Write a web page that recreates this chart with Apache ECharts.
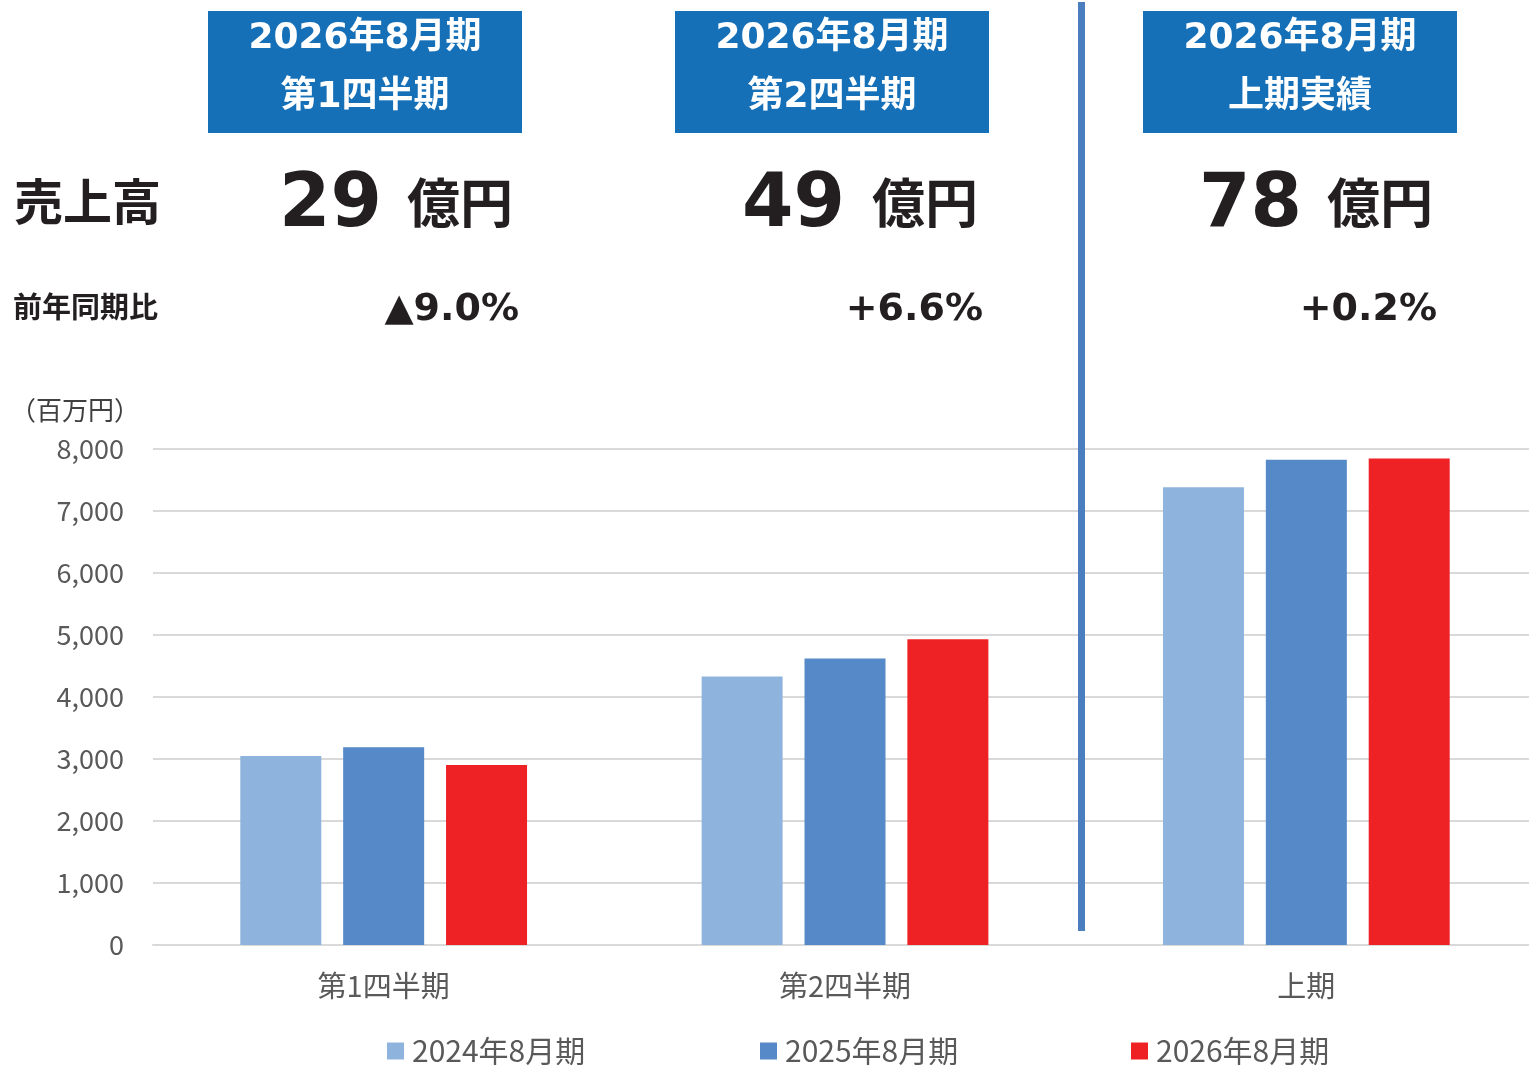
<!DOCTYPE html>
<html>
<head>
<meta charset="utf-8">
<title>売上高</title>
<script src="https://cdn.jsdelivr.net/npm/echarts@6/dist/echarts.min.js"></script>
<style>
  html, body { margin: 0; padding: 0; background: #fff; overflow: hidden; }
  #main { width: 1537px; height: 1065px; }
</style>
</head>
<body>
<div id="main"></div>
<script>
// カテゴリ・系列データ（百万円）
const categories = ['第1四半期', '第2四半期', '上期'];
const seriesNames = ['2024年8月期', '2025年8月期', '2026年8月期'];
const fy2024 = [3050, 4330, 7385];
const fy2025 = [3190, 4620, 7825];
const fy2026 = [2905, 4930, 7845];
const yTicks = [0, 1000, 2000, 3000, 4000, 5000, 6000, 7000, 8000];

// 見出し・サマリー
const headLine1 = ['2026年8月期', '2026年8月期', '2026年8月期'];
const headLine2 = ['第1四半期', '第2四半期', '上期実績'];
const salesOku = ['29', '49', '78'];
const yoyText = ['▲9.0%', '+6.6%', '+0.2%'];

const colors = ['#8eb4de', '#5689c8', '#ee2224'];
const boxBlue = '#1570b8';
const ink = '#231f20';
const gray = '#595959';
const cjk = '"Noto Sans CJK JP", sans-serif';
const numFont = '"DejaVu Sans", "Noto Sans CJK JP", sans-serif';

const chart = echarts.init(document.getElementById('main'));

// 上部パネル（見出しボックス・売上高・前年同期比）
const boxLeft = [208, 675, 1143];
const boxW = 314;
const numLeft = [279, 742, 1199];
const okuLeft = [407, 872, 1327];
const yoyRight = [519, 983, 1437];

const graphics = [];
for (let i = 0; i < 3; i++) {
    graphics.push({
        type: 'rect', left: boxLeft[i], top: 11,
        shape: { width: boxW, height: 122 },
        style: { fill: boxBlue }
    });
    graphics.push({
        type: 'text', x: boxLeft[i] + boxW / 2, y: 39,
        style: { text: headLine1[i], fill: '#fff', font: 'bold 36px ' + numFont, textAlign: 'center', textVerticalAlign: 'middle' }
    });
    graphics.push({
        type: 'text', x: boxLeft[i] + boxW / 2, y: 98,
        style: { text: headLine2[i], fill: '#fff', font: 'bold 36px ' + numFont, textAlign: 'center', textVerticalAlign: 'middle' }
    });
    graphics.push({
        type: 'text', x: numLeft[i], y: 244,
        style: { text: salesOku[i], fill: ink, font: 'bold 74px ' + numFont, textAlign: 'left', textVerticalAlign: 'bottom' }
    });
    graphics.push({
        type: 'text', x: okuLeft[i], y: 229,
        style: { text: '億円', fill: ink, font: 'bold 53px ' + cjk, textAlign: 'left', textVerticalAlign: 'bottom' }
    });
    graphics.push({
        type: 'text', x: yoyRight[i], y: 310,
        style: { text: yoyText[i], fill: ink, font: 'bold 38px ' + numFont, textAlign: 'right', textVerticalAlign: 'middle' }
    });
}
graphics.push({
    type: 'text', x: 14, y: 201,
    style: { text: '売上高', fill: ink, font: 'bold 49px ' + cjk, textAlign: 'left', textVerticalAlign: 'middle' }
});
graphics.push({
    type: 'text', x: 13, y: 307,
    style: { text: '前年同期比', fill: ink, font: 'bold 29px ' + cjk, textAlign: 'left', textVerticalAlign: 'middle' }
});
graphics.push({
    type: 'text', x: 10, y: 410,
    style: { text: '（百万円）', fill: '#404040', font: '26px ' + cjk, textAlign: 'left', textVerticalAlign: 'middle' }
});
// 区切り線
graphics.push({
    type: 'rect', left: 1078, top: 2, z: 10,
    shape: { width: 7, height: 929 },
    style: { fill: '#4a7ebf' }
});

function legendAt(left, name) {
    return {
        left: left, top: 1031,
        data: [name],
        icon: 'rect', itemWidth: 17, itemHeight: 17,
        textStyle: { fontSize: 30, color: gray, fontFamily: cjk, padding: [0, 0, 0, 3] },
        selectedMode: false
    };
}

const option = {
    animation: false,
    backgroundColor: '#fff',
    color: colors,
    grid: { left: 153, right: 0, top: 449, bottom: 120, containLabel: false },
    legend: [
        legendAt(382, seriesNames[0]),
        legendAt(755, seriesNames[1]),
        legendAt(1126, seriesNames[2])
    ],
    xAxis: {
        type: 'category',
        data: categories,
        axisTick: { show: false },
        axisLine: { lineStyle: { color: '#d9d9d9', width: 2 } },
        axisLabel: { fontSize: 29, color: gray, fontFamily: cjk, margin: 26 }
    },
    yAxis: {
        type: 'value',
        min: yTicks[0], max: yTicks[yTicks.length - 1], interval: 1000,
        axisLine: { show: false },
        axisTick: { show: false },
        splitLine: { lineStyle: { color: '#d9d9d9', width: 2 } },
        axisLabel: {
            fontSize: 27, color: gray, fontFamily: cjk, margin: 29,
            formatter: v => v.toLocaleString('en-US')
        }
    },
    series: [
        { name: seriesNames[0], type: 'bar', data: fy2024, barWidth: 81, barGap: '27%' },
        { name: seriesNames[1], type: 'bar', data: fy2025, barWidth: 81, barGap: '27%' },
        { name: seriesNames[2], type: 'bar', data: fy2026, barWidth: 81, barGap: '27%' }
    ],
    graphic: graphics
};

chart.setOption(option);
</script>
</body>
</html>
